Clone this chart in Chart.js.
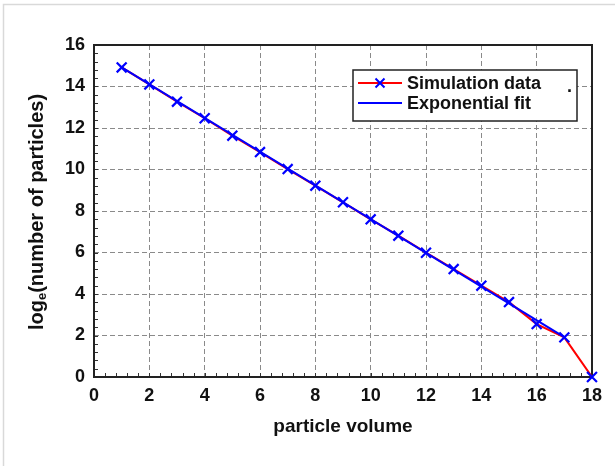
<!DOCTYPE html>
<html>
<head>
<meta charset="utf-8">
<script src="https://cdn.jsdelivr.net/npm/chart.js@4/dist/chart.umd.min.js"></script>
<style>
html,body{margin:0;padding:0;background:#fff;}
#wrap{width:615px;height:466px;position:relative;}
</style>
</head>
<body>
<div id="wrap"><canvas id="c" width="615" height="466"></canvas></div>
<script>
// Data
const particleVolume = [1,2,3,4,5,6,7,8,9,10,11,12,13,14,15,16,17,18];
const simulationLogN = [14.92,14.10,13.27,12.47,11.63,10.84,10.02,9.22,8.42,7.60,6.81,5.99,5.20,4.40,3.61,2.55,1.91,0];
const fitVolume = [1,17];
const fitLogN = [14.92,1.92];
const xTicks = [0,2,4,6,8,10,12,14,16,18];
const yTicks = [0,2,4,6,8,10,12,14,16];
const legendLabels = ['Simulation data','Exponential fit'];

const simPoints = particleVolume.map((x,i)=>({x:x,y:simulationLogN[i]}));
const fitPoints = fitVolume.map((x,i)=>({x:x,y:fitLogN[i]}));

const FONT = '"Liberation Sans", Arial, sans-serif';

const decor = {
  id:'decor',
  beforeDraw(chart){
    const ctx = chart.ctx;
    ctx.save();
    ctx.fillStyle='#fff';
    ctx.fillRect(0,0,chart.width,chart.height);
    ctx.strokeStyle='#d9d9d9';
    ctx.lineWidth=1.5;
    ctx.beginPath();
    ctx.moveTo(3.5,466); ctx.lineTo(3.5,4.5); ctx.lineTo(615,4.5);
    ctx.stroke();
    ctx.restore();
  },
  beforeDatasetsDraw(chart){
    const ctx = chart.ctx;
    const a = chart.chartArea;
    const xs = chart.scales.x, ys = chart.scales.y;
    ctx.save();
    // minor ticks (inside)
    ctx.strokeStyle='#333';
    ctx.lineWidth=1;
    ctx.beginPath();
    for(let v=0; v<=18.001; v+=0.4){
      const px = Math.round(xs.getPixelForValue(v))+0.5;
      ctx.moveTo(px,a.bottom); ctx.lineTo(px,a.bottom-4);
    }
    for(let v=0; v<=16.001; v+=0.4){
      const py = Math.round(ys.getPixelForValue(v))+0.5;
      ctx.moveTo(a.left,py); ctx.lineTo(a.left+4,py);
    }
    ctx.stroke();
    // plot frame
    ctx.strokeStyle='#222';
    ctx.lineWidth=2;
    ctx.strokeRect(a.left,a.top,a.right-a.left,a.bottom-a.top);
    ctx.restore();
  },
  afterDatasetsDraw(chart){
    const ctx = chart.ctx;
    ctx.save();
    // legend box
    const bx=353, by=70, bw=224, bh=51;
    ctx.fillStyle='#fff';
    ctx.fillRect(bx,by,bw,bh);
    ctx.strokeStyle='#222';
    ctx.lineWidth=1.5;
    ctx.strokeRect(bx,by,bw,bh);
    // entry 1
    ctx.strokeStyle='#ff0000'; ctx.lineWidth=2;
    ctx.beginPath(); ctx.moveTo(358,83); ctx.lineTo(402,83); ctx.stroke();
    ctx.strokeStyle='#0000ff'; ctx.lineWidth=2;
    ctx.beginPath();
    ctx.moveTo(375.5,78.5); ctx.lineTo(384.5,87.5);
    ctx.moveTo(384.5,78.5); ctx.lineTo(375.5,87.5);
    ctx.stroke();
    // entry 2
    ctx.strokeStyle='#0000ff'; ctx.lineWidth=2;
    ctx.beginPath(); ctx.moveTo(358,103); ctx.lineTo(402,103); ctx.stroke();
    ctx.fillStyle='#111';
    ctx.font='bold 18px '+FONT;
    ctx.textBaseline='middle';
    ctx.textAlign='left';
    ctx.fillText(legendLabels[0],407,84);
    ctx.fillText(legendLabels[1],407,104);
    ctx.fillText('.',567,87);

    // y-axis title with subscript
    ctx.translate(37,212);
    ctx.rotate(-Math.PI/2);
    ctx.fillStyle='#111';
    ctx.textBaseline='middle';
    const f1='bold 20px '+FONT, f2='bold 13px '+FONT;
    ctx.font=f1; const w1=ctx.measureText('log').width;
    const w3=ctx.measureText('(number of particles)').width;
    ctx.font=f2; const w2=ctx.measureText('e').width;
    let x0=-(w1+w2+w3)/2;
    ctx.font=f1; ctx.textAlign='left';
    ctx.fillText('log',x0,0);
    ctx.font=f2; ctx.fillText('e',x0+w1,5);
    ctx.font=f1; ctx.fillText('(number of particles)',x0+w1+w2,0);
    ctx.restore();
  }
};

new Chart(document.getElementById('c'),{
  type:'scatter',
  data:{
    datasets:[
      {label:'markers',data:simPoints,showLine:false,pointStyle:'crossRot',pointRadius:7,clip:false,
       pointBorderColor:'#0000ff',pointBackgroundColor:'#0000ff',pointBorderWidth:2.2,pointHoverRadius:7},
      {label:legendLabels[1],data:fitPoints,showLine:true,borderColor:'#0000ff',borderWidth:2,pointRadius:0,tension:0},
      {label:legendLabels[0],data:simPoints,showLine:true,borderColor:'#ff0000',borderWidth:2,pointRadius:0,tension:0}
    ]
  },
  options:{
    responsive:false,
    animation:false,
    devicePixelRatio:1,
    layout:{padding:{left:0,top:45,right:23,bottom:0}},
    plugins:{legend:{display:false},tooltip:{enabled:false}},
    scales:{
      x:{
        type:'linear',min:0,max:18,
        afterBuildTicks(s){s.ticks=xTicks.map(v=>({value:v}));},
        afterFit(s){s.height=89;},
        grid:{color:'#8a8a8a',lineWidth:1,drawTicks:false},
        border:{display:false,dash:[5,3]},
        ticks:{padding:8,color:'#111',font:{family:FONT,size:18,weight:'bold'},maxRotation:0},
        title:{display:true,text:'particle volume',color:'#111',font:{family:FONT,size:19,weight:'bold'},padding:{top:4,bottom:28}}
      },
      y:{
        type:'linear',min:0,max:16,
        afterBuildTicks(s){s.ticks=yTicks.map(v=>({value:v}));},
        afterFit(s){s.width=94;},
        grid:{color:'#8a8a8a',lineWidth:1,drawTicks:false},
        border:{display:false,dash:[5,3]},
        ticks:{padding:9,color:'#111',font:{family:FONT,size:18,weight:'bold'}}
      }
    }
  },
  plugins:[decor]
});
</script>
</body>
</html>
